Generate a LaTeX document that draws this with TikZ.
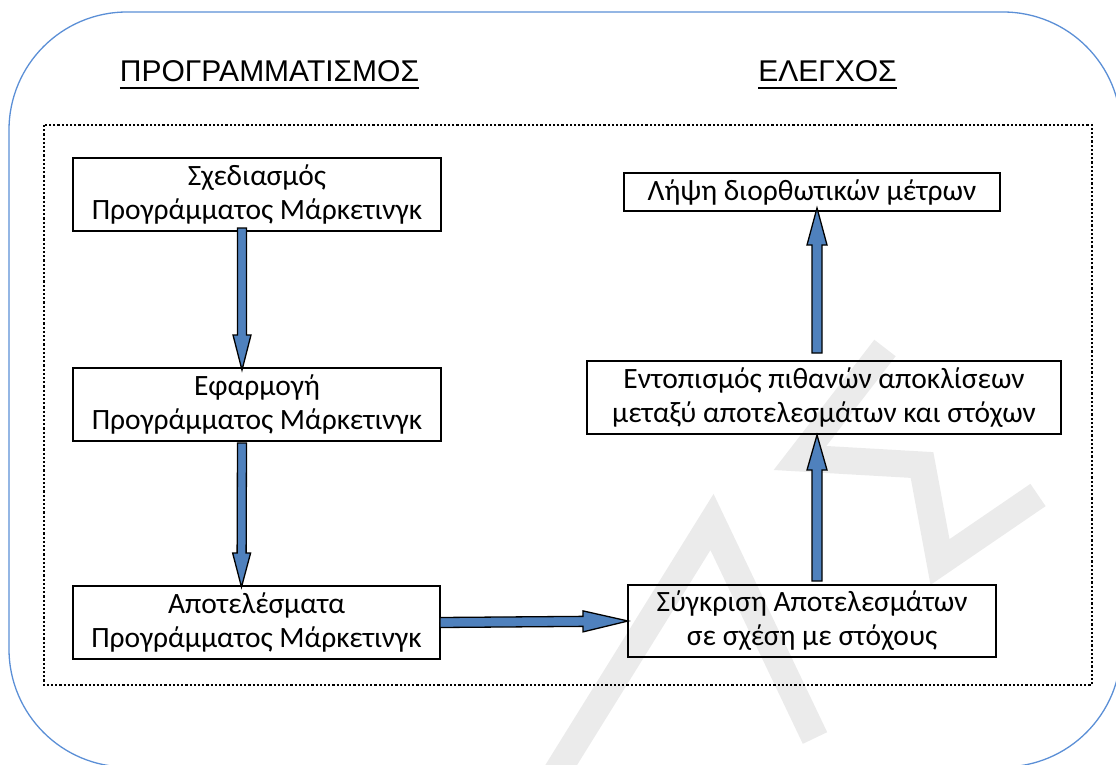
\documentclass[tikz,border=0pt]{standalone}
\usepackage{fontspec}
\setmainfont{Carlito}
\newfontfamily\titlefont{Liberation Sans}
\usetikzlibrary{calc}
\definecolor{frameblue}{RGB}{91,143,214}
\definecolor{arrowblue}{RGB}{79,129,189}
\definecolor{wmgray}{RGB}{235,235,235}
\tikzset{
  stepbox/.style={draw=black, line width=2pt, inner sep=0pt, outer sep=0pt,
    align=center, font=\fontsize{29.5}{34}\selectfont},
  titletext/.style={inner sep=0pt, outer sep=0pt, anchor=base,
    font=\titlefont\fontsize{30}{32}\selectfont},
  blockarrow/.style={fill=arrowblue, draw=black, line width=1.3pt, line join=miter},
  watermark/.style={draw=wmgray, line width=27pt, line join=miter, line cap=butt},
}
% #1 start, #2 tip, #3 half shaft, #4 half head, #5 head length
\newcommand\blockarr[5]{%
  \path (#2) coordinate (bt) ($(#2)!#5!(#1)$) coordinate (bh);
  \draw[blockarrow] ($(#1)!#3!-90:(#2)$) -- ($(bh)!#3!-90:(#2)$)
    -- ($(bh)!#4!-90:(#2)$) -- (bt) -- ($(bh)!#4!90:(#2)$)
    -- ($(bh)!#3!90:(#2)$) -- ($(#1)!#3!90:(#2)$) -- cycle;}
\begin{document}
\begin{tikzpicture}[x=1pt, y=-1pt]
\useasboundingbox (0,0) rectangle (1116,765);
\clip (0,0) rectangle (1116,765);

% watermark
\draw[watermark] (555,775) -- (712,522) -- (815,738);
\draw[watermark] (885,348) -- (800,458) -- (922,465) -- (940,562) -- (1038,495);

% outer frame
\draw[frameblue, line width=1.3pt, rounded corners=118pt] (9,12) rectangle (1121,767);
% dotted frame
\draw[line width=2.2pt, dash pattern=on 2.2pt off 2pt] (44,125) rectangle (1092,685);

% titles
\node[titletext] (t1) at (269.5,82) {ΠΡΟΓΡΑΜΜΑΤΙΣΜΟΣ};
\node[titletext] (t2) at (827.5,82) {ΕΛΕΓΧΟΣ};
\draw[line width=2.2pt] ($(t1.base west)+(0,6)$) -- ($(t1.base east)+(0,6)$);
\draw[line width=2.2pt] ($(t2.base west)+(0,6)$) -- ($(t2.base east)+(0,6)$);

% boxes
\node[stepbox, minimum width=368pt, minimum height=73pt] (b1) at (257,194.5)
  {Σχεδιασμός\\Προγράμματος Μάρκετινγκ};
\node[stepbox, minimum width=368pt, minimum height=73pt] (b2) at (257,404.5)
  {Εφαρμογή\\Προγράμματος Μάρκετινγκ};
\node[stepbox, minimum width=367pt, minimum height=73pt] (b3) at (256.5,622.5)
  {Αποτελέσματα\\Προγράμματος Μάρκετινγκ};
\node[stepbox, minimum width=368pt, minimum height=72pt] (b4) at (812,621)
  {Σύγκριση Αποτελεσμάτων\\σε σχέση με στόχους};
\node[stepbox, minimum width=474pt, minimum height=73pt] (b5) at (824,397.5)
  {Εντοπισμός πιθανών αποκλίσεων\\μεταξύ αποτελεσμάτων και στόχων};
\node[stepbox, minimum width=376pt, minimum height=38pt] (b6) at (812,192)
  {Λήψη διορθωτικών μέτρων};

% arrows
\path ($(b1.south)+(-15,-3)$) coordinate (a1s) ($(b2.north)+(-15,2)$) coordinate (a1e);
\blockarr{a1s}{a1e}{4.5pt}{9pt}{35pt}
\path ($(b2.south)+(-15,2)$) coordinate (a2s) ($(b3.north)+(-15,1)$) coordinate (a2e);
\blockarr{a2s}{a2e}{4.5pt}{9pt}{34pt}
\path (b3.east) coordinate (a3s) (b4.west) coordinate (a3e);
\blockarr{a3s}{a3e}{5pt}{10.5pt}{45pt}
\path ($(b4.north)+(5,-4)$) coordinate (a4s) ($(b5.south)+(-7,1)$) coordinate (a4e);
\blockarr{a4s}{a4e}{5pt}{10pt}{35pt}
\path ($(b5.north)+(-7,-8)$) coordinate (a5s) ($(b6.south)+(5,-3)$) coordinate (a5e);
\blockarr{a5s}{a5e}{5pt}{10pt}{37pt}
\end{tikzpicture}
\end{document}
